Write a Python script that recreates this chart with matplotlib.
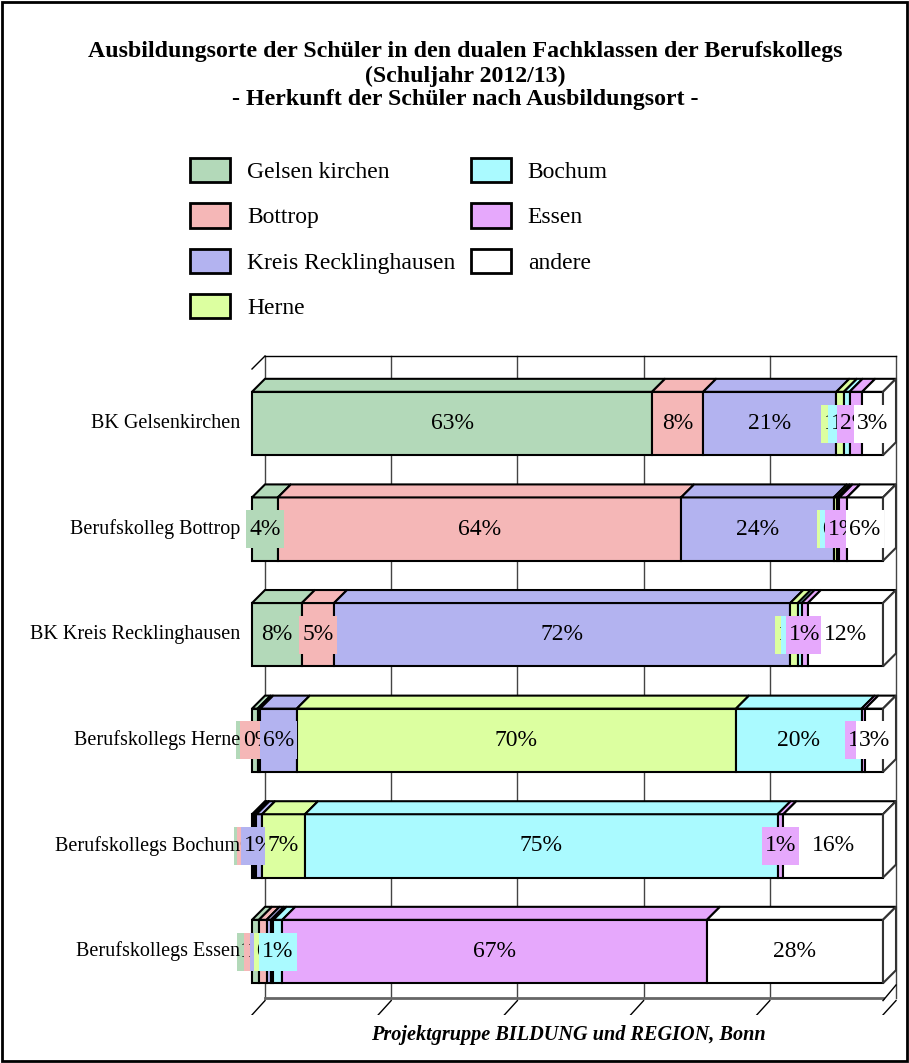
import matplotlib.pyplot as plt
from matplotlib.patches import Polygon, Rectangle, Patch
import numpy as np

plt.rcParams['font.family'] = ['Liberation Serif', 'DejaVu Serif']

schools = ['BK Gelsenkirchen', 'Berufskolleg Bottrop', 'BK Kreis Recklinghausen',
           'Berufskollegs Herne', 'Berufskollegs Bochum', 'Berufskollegs Essen']
places = ['Gelsen kirchen', 'Bottrop', 'Kreis Recklinghausen', 'Herne',
          'Bochum', 'Essen', 'andere']
colors = ['#b3d9b9', '#f5b7b7', '#b3b3f0', '#dcffa0', '#aafaff', '#e6a8fc', '#ffffff']

# share of pupils (%) per school, by place of training
gelsenkirchen = [63.4, 4.1, 7.9, 0.9, 0.3, 1.1]
bottrop = [8.1, 63.9, 5.1, 0.4, 0.4, 1.2]
recklinghausen = [21.1, 24.2, 72.3, 5.8, 0.9, 0.7]
herne = [1.2, 0.5, 1.2, 69.6, 6.8, 0.4]
bochum = [0.9, 0.4, 0.6, 19.9, 74.9, 1.4]
essen = [2.0, 1.2, 1.0, 0.6, 0.9, 67.3]
andere = [3.3, 5.7, 11.9, 2.8, 15.8, 27.9]

series = [gelsenkirchen, bottrop, recklinghausen, herne, bochum, essen, andere]
values = np.array(series)

W, H = 909, 1063
fig = plt.figure(figsize=(W / 100, H / 100), dpi=100)

# axes in pixel box 230..905 x 340..1015
ax = fig.add_axes([230 / W, 1 - 1015 / H, 675 / W, 675 / H])
ax.set_xlim((230 - 252) / 6.31, (905 - 252) / 6.31)
ax.set_ylim((1015 - 423.5) / 105.6, (340 - 423.5) / 105.6)
ax.axis('off')

dx = 13 / 6.31      # depth in x units
dy = 13 / 105.6     # depth in y units
h = 0.6             # bar thickness
y = np.arange(len(schools))

y_top = (356 - 423.5) / 105.6
y_bb = (985 - 423.5) / 105.6
y_ff = y_bb + dy

# back wall, grid and floor
for g in range(0, 101, 20):
    ax.plot([g + dx, g + dx], [y_top, y_ff], color='#444444', lw=1, zorder=1)
ax.plot([dx, 100 + dx], [y_top, y_top], color='black', lw=1, zorder=1)
ax.plot([0, dx], [y_top + dy, y_top], color='black', lw=1, zorder=1)
ax.plot([dx, 100], [y_ff, y_ff], color='#666666', lw=2, zorder=1)
ax.plot([100 + dx, 100], [y_ff - dy, y_ff + 0.2 * dy], color='black', lw=1, zorder=1)
for g in range(0, 101, 20):
    ax.plot([g + dx, g], [y_ff + 0.2 * dy, y_ff + 1.3 * dy], color='black', lw=1, zorder=1)

labels = []
left = np.zeros(len(schools))
for j, vals in enumerate(values):
    z = 2 + j
    ax.barh(y, vals, left=left, height=h, color=colors[j], edgecolor='black',
            linewidth=1.5, zorder=z)
    for i in range(len(schools)):
        x0, x1 = left[i], left[i] + vals[i]
        yt = y[i] - h / 2
        top = Polygon([(x0, yt), (x0 + dx, yt - dy), (x1 + dx, yt - dy), (x1, yt)],
                      closed=True, fc=colors[j], ec='black', lw=1.5, zorder=z)
        ax.add_patch(top)
        if j == len(values) - 1:
            side = Polygon([(x1, yt), (x1 + dx, yt - dy), (x1 + dx, yt + h - dy), (x1, yt + h)],
                           closed=True, fc='white', ec='#333333', lw=1.5, zorder=z)
            ax.add_patch(side)
        t = ax.text((x0 + x1) / 2, y[i], f'{vals[i]:.0f}%', ha='center', va='center',
                    fontsize=17, zorder=21 + 2 * j)
        labels.append((t, colors[j], 20 + 2 * j, y[i]))
    left += vals

for i, name in enumerate(schools):
    ax.text(-1.9, y[i], name, ha='right', va='center', fontsize=14.5, zorder=40)

# titles
fig.text(465 / W, 1 - 52 / H, 'Ausbildungsorte der Schüler in den dualen Fachklassen der Berufskollegs',
         ha='center', va='center', fontsize=17.2, fontweight='bold')
fig.text(465 / W, 1 - 76 / H, '(Schuljahr 2012/13)',
         ha='center', va='center', fontsize=17.2, fontweight='bold')
fig.text(465 / W, 1 - 100 / H, '- Herkunft der Schüler nach Ausbildungsort -',
         ha='center', va='center', fontsize=17.2, fontweight='bold')
fig.text(568 / W, 1 - 1035 / H, 'Projektgruppe BILDUNG und REGION, Bonn',
         ha='center', va='center', fontsize=14.6, fontweight='bold', style='italic')

handles = [Patch(fc=c, ec='black', lw=2) for c in colors]
fig.legend(handles, places, ncol=2, loc='upper left', bbox_to_anchor=(190 / W, 1 - 158 / H),
           frameon=False, fontsize=17, handlelength=1.7, handleheight=1.2,
           labelspacing=0.86, handletextpad=0.72, columnspacing=0.64, borderpad=0,
           borderaxespad=0)

# filled boxes behind the value labels: narrow sides, tall top and bottom
fig.canvas.draw()
inv = ax.transData.inverted()
px_x = 6.31
box_h = 38 / 105.6
for t, c, z, yc in labels:
    bb = t.get_window_extent()
    (bx0, _), (bx1, _) = inv.transform([(bb.x0, bb.y0), (bb.x1, bb.y1)])
    pad = 3 / px_x
    ax.add_patch(Rectangle((bx0 - pad, yc - box_h / 2), bx1 - bx0 + 2 * pad, box_h,
                           fc=c, ec='none', zorder=z))

fig.patches.append(Rectangle((0.002, 0.002), 0.996, 0.996, transform=fig.transFigure,
                             fill=False, ec='black', lw=2))

fig.savefig('out.png', dpi=100)
